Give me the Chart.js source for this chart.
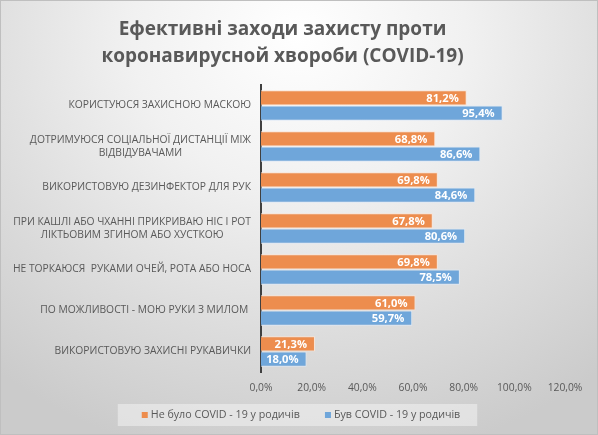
<!DOCTYPE html>
<html>
<head>
<meta charset="utf-8">
<script src="https://cdn.jsdelivr.net/npm/chart.js@4"></script>
<style>
  html,body{margin:0;padding:0;background:#fff}
  #wrap{position:relative;width:598px;height:435px;box-sizing:border-box;border:1px solid #bfbfbf;
    background:radial-gradient(ellipse 80% 100% at 50% 8%, #ffffff 0%, #f1f1f1 35%, #dcdcdc 70%, #cbcbcb 100%)}
  canvas{position:absolute;left:-1px;top:-1px}
</style>
</head>
<body>
<div id="wrap"><canvas id="c" width="598" height="435"></canvas></div>
<script>
// data
const categories=[
  ['КОРИСТУЮСЯ ЗАХИСНОЮ МАСКОЮ'],
  ['ДОТРИМУЮСЯ СОЦІАЛЬНОЇ ДИСТАНЦІЇ МІЖ','ВІДВІДУВАЧАМИ'],
  ['ВИКОРИСТОВУЮ ДЕЗИНФЕКТОР ДЛЯ РУК'],
  ['ПРИ КАШЛІ АБО ЧХАННІ ПРИКРИВАЮ НІС І РОТ','ЛІКТЬОВИМ ЗГИНОМ АБО ХУСТКОЮ'],
  ['НЕ ТОРКАЮСЯ  РУКАМИ ОЧЕЙ, РОТА АБО НОСА'],
  ['ПО МОЖЛИВОСТІ - МОЮ РУКИ З МИЛОМ '],
  ['ВИКОРИСТОВУЮ ЗАХИСНІ РУКАВИЧКИ']
];
const noCovid=[81.2,68.8,69.8,67.8,69.8,61.0,21.3];
const hadCovid=[95.4,86.6,84.6,80.6,78.5,59.7,18.0];
const seriesNames=['Не було COVID - 19 у родичів','Був COVID - 19 у родичів'];
const titleLines=['Ефективні заходи захисту проти','коронавирусной хвороби (COVID-19)'];

const FONT='"Open Sans", sans-serif';
const TEXT='#595959';
const fmt=v=>v.toFixed(1).replace('.',',')+'%';

// category labels: block right-aligned to the axis, lines centred inside the block
const catLabels={id:'catLabels',afterDraw(chart){
  const ctx=chart.ctx, y=chart.scales.y, right=chart.chartArea.left-10;
  ctx.save(); ctx.font='10.3px '+FONT; ctx.fillStyle=TEXT; ctx.textAlign='center'; ctx.textBaseline='middle';
  categories.forEach((lines,i)=>{
    const w=Math.max(...lines.map(l=>ctx.measureText(l.trimEnd()).width+(l.endsWith(' ')?3:0)));
    const cx=right-w/2, cy=y.getPixelForValue(i), lh=13.5;
    lines.forEach((l,k)=>ctx.fillText(l,cx,cy+(k-(lines.length-1)/2)*lh));
  });
  ctx.restore();
}};

// values at the inner end of each bar
const barValues={id:'barValues',afterDatasetsDraw(chart){
  const ctx=chart.ctx; ctx.save();
  ctx.font='bold 11.2px '+FONT; ctx.fillStyle='#fff'; ctx.textAlign='right'; ctx.textBaseline='middle';
  chart.data.datasets.forEach((ds,di)=>{
    chart.getDatasetMeta(di).data.forEach((el,i)=>ctx.fillText(fmt(ds.data[i]),el.x-8,el.y+1));
  });
  ctx.restore();
}};

// legend on a light panel under the axis
const legendBox={id:'legendBox',afterDraw(chart){
  const ctx=chart.ctx, ds=chart.data.datasets, cy=415, sq=6, gap=3, between=25;
  ctx.save(); ctx.font='10.7px '+FONT; ctx.textBaseline='middle'; ctx.textAlign='left';
  const widths=ds.map(d=>ctx.measureText(d.label).width);
  const total=widths.reduce((a,w)=>a+sq+gap+w,0)+between*(ds.length-1);
  let x=301-total/2;
  ctx.fillStyle='rgba(242,242,242,0.55)'; ctx.fillRect(x-24,cy-11,total+41,22);
  ds.forEach((d,i)=>{
    ctx.fillStyle=d.backgroundColor; ctx.fillRect(x,cy-sq/2,sq,sq);
    ctx.fillStyle=TEXT; ctx.fillText(d.label,x+sq+gap,cy);
    x+=sq+gap+widths[i]+between;
  });
  ctx.restore();
}};

new Chart(document.getElementById('c'),{
  type:'bar',
  data:{labels:categories.map(c=>c.join(' ')),datasets:[
    {label:seriesNames[0],data:noCovid,backgroundColor:'#ed8d4e',borderColor:'#fbe3d3',borderWidth:1,categoryPercentage:0.74,barPercentage:1},
    {label:seriesNames[1],data:hadCovid,backgroundColor:'#6fa6da',borderColor:'#dde9f6',borderWidth:1,categoryPercentage:0.74,barPercentage:1}
  ]},
  options:{
    indexAxis:'y',responsive:false,animation:false,devicePixelRatio:1,
    layout:{padding:{left:0,right:33,top:2,bottom:39}},
    scales:{
      x:{min:0,max:120,grid:{display:false,drawTicks:false},border:{display:false},
        ticks:{stepSize:20,color:TEXT,font:{size:10.3,family:FONT},padding:10,callback:v=>fmt(v)},
        afterFit:s=>{s.height=24;}},
      y:{grid:{display:false},border:{display:true,color:'#404040',width:2},ticks:{display:false},
        afterFit:s=>{s.width=261;}}
    },
    plugins:{
      title:{display:true,text:titleLines,color:TEXT,font:{size:19,weight:'bold',family:FONT,lineHeight:1.42},padding:{top:14.5,bottom:14.5}},
      legend:{display:false},
      tooltip:{enabled:false}
    }
  },
  plugins:[catLabels,barValues,legendBox]
});
</script>
</body>
</html>
